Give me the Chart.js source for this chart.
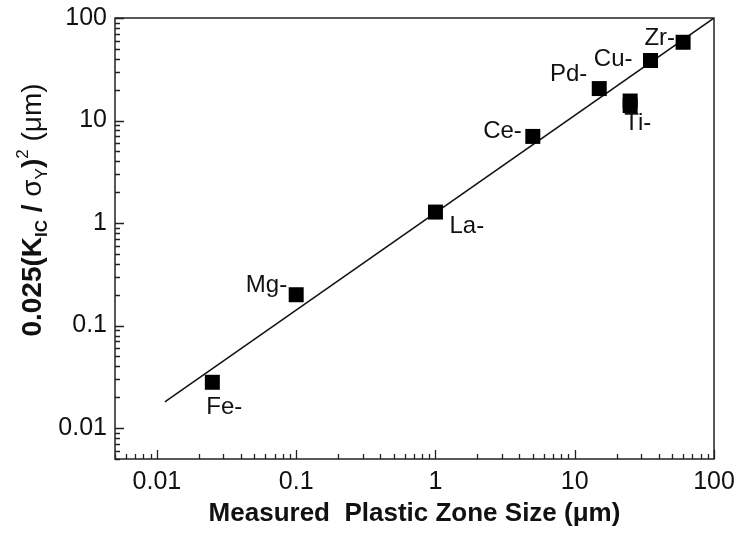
<!DOCTYPE html>
<html>
<head>
<meta charset="utf-8">
<script src="https://cdn.jsdelivr.net/npm/chart.js@4.4.0/dist/chart.umd.min.js"></script>
<style>
  html, body { margin: 0; padding: 0; background: #fff; }
  #wrap { width: 739px; height: 537px; }
</style>
</head>
<body>
<div id="wrap"><canvas id="zoneChart"></canvas></div>
<script>
'use strict';

// alloy systems (Ti has two nearly overlapping entries)
var alloys = ['Fe', 'Mg', 'La', 'Ce', 'Pd', 'Ti', 'Ti', 'Cu', 'Zr'];
var measuredZone = [0.025, 0.1, 1, 5, 15, 25, 25, 35, 60];
var predictedZone = [0.028, 0.2, 1.28, 7, 20.5, 15.5, 14, 38.5, 58];

// fitted line end points
var fitX = [0.0114, 100];
var fitY = [0.018, 100];

var xTickValues = [0.01, 0.1, 1, 10, 100];
var yTickValues = [0.01, 0.1, 1, 10, 100];

// where each alloy name sits relative to its marker (null = no label)
var labelPlace = [
  {dx: -6, dy: 31.5, align: 'left'},
  {dx: -9, dy: -3, align: 'right'},
  {dx: 14, dy: 21, align: 'left'},
  {dx: -11, dy: 2, align: 'right'},
  {dx: -12, dy: -8, align: 'right'},
  {dx: -6, dy: 28.5, align: 'left'},
  null,
  {dx: -18, dy: 5, align: 'right'},
  {dx: -8, dy: 3, align: 'right'}
];

var INK = '#111';
var FONT = 'Liberation Sans, Arial, Helvetica, sans-serif';

var points = [];
for (var i = 0; i < alloys.length; i++) {
  points.push({x: measuredZone[i], y: predictedZone[i]});
}
var fitLine = [];
for (var j = 0; j < fitX.length; j++) {
  fitLine.push({x: fitX[j], y: fitY[j]});
}

// box round the plot plus inward log ticks
var frameTicks = {
  id: 'frameTicks',
  afterDatasetsDraw: function(chart) {
    var ctx = chart.ctx;
    var a = chart.chartArea;
    var xs = chart.scales.x;
    var ys = chart.scales.y;
    ctx.save();
    ctx.strokeStyle = '#222';
    ctx.lineWidth = 1.5;
    ctx.strokeRect(a.left, a.top, a.right - a.left, a.bottom - a.top);
    ctx.lineWidth = 1.3;
    ctx.beginPath();
    for (var e = -3; e <= 2; e++) {
      for (var m = 1; m <= 9; m++) {
        var v = m * Math.pow(10, e);
        var len = m === 1 ? 9 : 5;
        if (v >= xs.min * 0.999 && v <= xs.max * 1.001) {
          var px = Math.round(xs.getPixelForValue(v)) + 0.5;
          ctx.moveTo(px, a.bottom);
          ctx.lineTo(px, a.bottom - len);
        }
        if (v >= ys.min * 0.999 && v <= ys.max * 1.001) {
          var py = Math.round(ys.getPixelForValue(v)) + 0.5;
          ctx.moveTo(a.left, py);
          ctx.lineTo(a.left + len, py);
        }
      }
    }
    ctx.stroke();

    // alloy names next to markers
    ctx.fillStyle = INK;
    ctx.font = '24px ' + FONT;
    ctx.textBaseline = 'alphabetic';
    var meta = chart.getDatasetMeta(0);
    for (var k = 0; k < meta.data.length; k++) {
      var place = labelPlace[k];
      if (!place) continue;
      var el = meta.data[k];
      ctx.textAlign = place.align;
      ctx.fillText(alloys[k] + '-', el.x + place.dx, el.y + place.dy);
    }
    ctx.restore();
  }
};

// rotated y title with sub- and superscripts
var yTitleParts = [
  {text: '0.025(K', size: 28, weight: 'bold', dy: 0},
  {text: 'IC', size: 17, weight: 'bold', dy: 6},
  {text: ' / ', size: 28, weight: 'bold', dy: 0},
  {text: 'σ', size: 28, weight: 'normal', dy: 0},
  {text: 'Y', size: 17, weight: 'normal', dy: 6},
  {text: ')', size: 28, weight: 'bold', dy: 0},
  {text: '2', size: 17, weight: 'normal', dy: -13},
  {text: ' (μm)', size: 28, weight: 'normal', dy: 0}
];

var yTitle = {
  id: 'yTitle',
  afterDraw: function(chart) {
    var ctx = chart.ctx;
    ctx.save();
    ctx.fillStyle = INK;
    ctx.textBaseline = 'alphabetic';
    ctx.textAlign = 'left';
    var total = 0;
    yTitleParts.forEach(function(p) {
      ctx.font = p.weight + ' ' + p.size + 'px ' + FONT;
      p.w = ctx.measureText(p.text).width;
      total += p.w;
    });
    ctx.translate(41, 210);
    ctx.rotate(-Math.PI / 2);
    var x = -total / 2;
    yTitleParts.forEach(function(p) {
      ctx.font = p.weight + ' ' + p.size + 'px ' + FONT;
      ctx.fillText(p.text, x, p.dy);
      x += p.w;
    });
    ctx.restore();
  }
};

function tickText(value) {
  return String(value);
}

// fixed axis sizes, no extra room for overhanging labels
function fixBox(scale, w, h) {
  if (w) scale.width = w;
  if (h) scale.height = h;
  scale.paddingLeft = 0;
  scale.paddingRight = 0;
  scale.paddingTop = 0;
  scale.paddingBottom = 0;
}

var ctx = document.getElementById('zoneChart').getContext('2d');
var chart = new Chart(ctx, {
  type: 'scatter',
  data: {
    datasets: [{
      label: 'alloys',
      data: points,
      order: 0,
      pointStyle: 'rect',
      pointRadius: 10.6,
      pointHoverRadius: 10.6,
      backgroundColor: '#000',
      borderColor: '#000',
      borderWidth: 0
    }, {
      label: 'fit',
      type: 'line',
      data: fitLine,
      order: 1,
      showLine: true,
      borderColor: '#111',
      borderWidth: 1.5,
      pointRadius: 0,
      fill: false
    }]
  },
  options: {
    responsive: true,
    maintainAspectRatio: false,
    animation: false,
    events: [],
    layout: {padding: {top: 18, right: 25, left: 0, bottom: 0}},
    plugins: {
      legend: {display: false},
      tooltip: {enabled: false}
    },
    scales: {
      x: {
        type: 'logarithmic',
        min: 0.005,
        max: 100,
        grid: {display: false, drawTicks: false},
        border: {display: false},
        afterBuildTicks: function(scale) {
          scale.ticks = xTickValues.map(function(v) { return {value: v}; });
        },
        afterFit: function(scale) { fixBox(scale, 0, 78); },
        ticks: {
          autoSkip: false,
          maxRotation: 0,
          padding: 8,
          color: INK,
          font: {family: FONT, size: 25},
          callback: tickText
        },
        title: {
          display: true,
          text: 'Measured  Plastic Zone Size (μm)',
          color: INK,
          font: {family: FONT, size: 26, weight: 'bold'},
          padding: {top: 0, bottom: 8}
        }
      },
      y: {
        type: 'logarithmic',
        min: 0.005,
        max: 100,
        grid: {display: false, drawTicks: false},
        border: {display: false},
        afterBuildTicks: function(scale) {
          scale.ticks = yTickValues.map(function(v) { return {value: v}; });
        },
        afterFit: function(scale) { fixBox(scale, 115, 0); },
        ticks: {
          autoSkip: false,
          padding: 8,
          color: INK,
          font: {family: FONT, size: 25},
          callback: tickText
        }
      }
    }
  },
  plugins: [frameTicks, yTitle]
});
</script>
</body>
</html>
